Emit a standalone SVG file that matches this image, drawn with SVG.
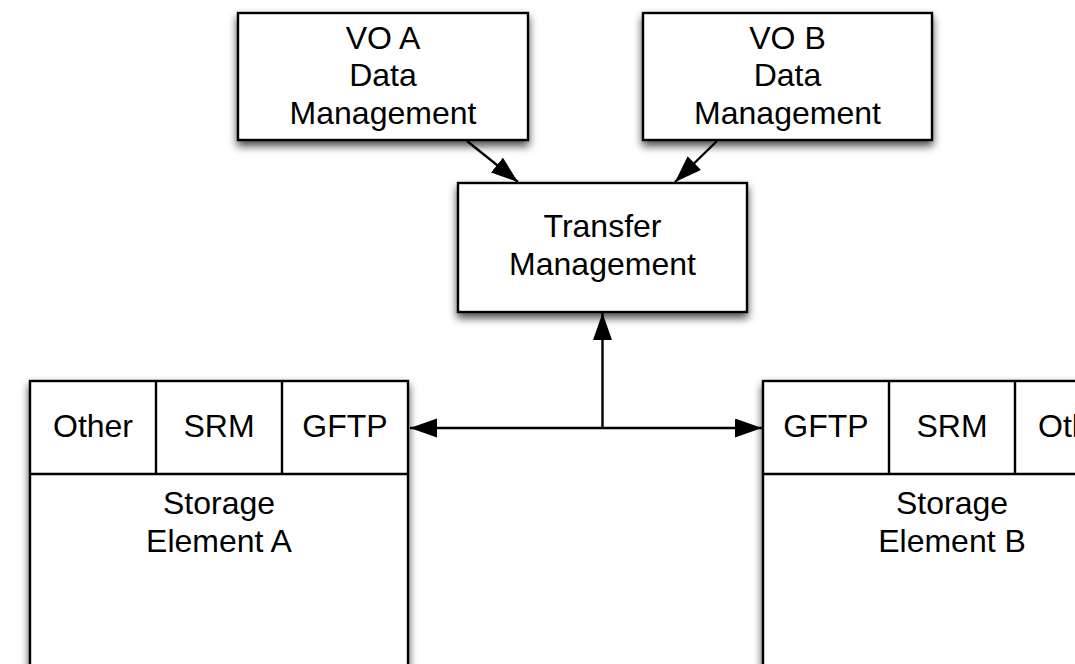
<svg xmlns="http://www.w3.org/2000/svg" width="1075" height="664" viewBox="0 0 1075 664">
<style>
.box{fill:#fff;stroke:#000;stroke-width:2.4}
.div{stroke:#000;stroke-width:2.4;fill:none}
.t{font-family:"Liberation Sans",Arial,sans-serif;font-size:32px;fill:#000;text-anchor:middle}
.c{stroke:#000;stroke-width:2.4;fill:none}
</style>
<defs>
<filter id="sh" x="-20%" y="-20%" width="140%" height="150%">
<feDropShadow dx="0" dy="5" stdDeviation="4.5" flood-color="#000" flood-opacity="0.7"/>
</filter>
<marker id="ah" markerUnits="userSpaceOnUse" markerWidth="28" markerHeight="20" refX="27" refY="9.5" orient="auto-start-reverse" viewBox="0 0 28 20">
<path d="M0,0 L27,9.5 L0,19 z" fill="#000"/>
</marker>
</defs>
<rect width="1075" height="664" fill="#fff"/>

<g id="vo-a">
<rect class="box" x="238" y="13" width="290" height="127" filter="url(#sh)"/>
<text class="t" x="383" y="49">VO A</text>
<text class="t" x="383" y="86">Data</text>
<text class="t" x="383" y="124">Management</text>
</g>

<g id="vo-b">
<rect class="box" x="643" y="13" width="289" height="127" filter="url(#sh)"/>
<text class="t" x="787.5" y="49">VO B</text>
<text class="t" x="787.5" y="86">Data</text>
<text class="t" x="787.5" y="124">Management</text>
</g>

<g id="transfer">
<rect class="box" x="458" y="183" width="289" height="129" filter="url(#sh)"/>
<text class="t" x="602.5" y="237">Transfer</text>
<text class="t" x="602.5" y="275">Management</text>
</g>

<g id="storage-a">
<rect class="box" x="30" y="381" width="378" height="320" filter="url(#sh)"/>
<line class="div" x1="30" y1="474" x2="408" y2="474"/>
<line class="div" x1="156" y1="381" x2="156" y2="474"/>
<line class="div" x1="282" y1="381" x2="282" y2="474"/>
<text class="t" x="93" y="437">Other</text>
<text class="t" x="219" y="437">SRM</text>
<text class="t" x="345" y="437">GFTP</text>
<text class="t" x="219" y="514">Storage</text>
<text class="t" x="219" y="552">Element A</text>
</g>

<g id="storage-b">
<rect class="box" x="763" y="381" width="378" height="320" filter="url(#sh)"/>
<line class="div" x1="763" y1="474" x2="1141" y2="474"/>
<line class="div" x1="889" y1="381" x2="889" y2="474"/>
<line class="div" x1="1015" y1="381" x2="1015" y2="474"/>
<text class="t" x="826" y="437">GFTP</text>
<text class="t" x="952" y="437">SRM</text>
<text class="t" x="1078" y="437">Other</text>
<text class="t" x="952" y="514">Storage</text>
<text class="t" x="952" y="552">Element B</text>
</g>

<g id="connectors">
<line class="c" x1="467" y1="141" x2="518" y2="182" marker-end="url(#ah)"/>
<line class="c" x1="717" y1="141" x2="675" y2="182" marker-end="url(#ah)"/>
<line class="c" x1="602.5" y1="428" x2="602.5" y2="313" marker-end="url(#ah)"/>
<line class="c" x1="410" y1="428" x2="762" y2="428" marker-start="url(#ah)" marker-end="url(#ah)"/>
</g>
</svg>
